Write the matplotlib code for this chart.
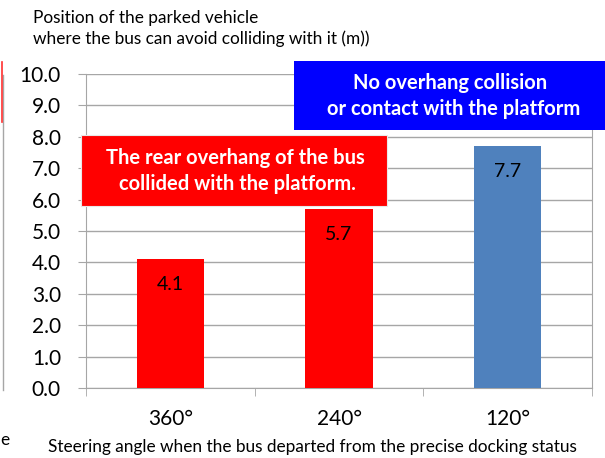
import matplotlib
matplotlib.use("Agg")
import matplotlib.pyplot as plt
from matplotlib.patches import Rectangle
from matplotlib.lines import Line2D

# data
angles = ["360°", "240°", "120°"]
positions = [4.1, 5.7, 7.7]
bar_colors = ["#ff0000", "#ff0000", "#4f81bd"]
yticks = [0, 1, 2, 3, 4, 5, 6, 7, 8, 9, 10]

GRID = "#a6a6a6"
plt.rcParams.update({"font.family": ["Lato", "DejaVu Sans"]})

fig = plt.figure(figsize=(6.05, 4.58), dpi=100)
ax = fig.add_axes([86 / 605, 1 - 388 / 458, (592 - 86) / 605, (388 - 74) / 458])

x = range(len(angles))
ax.bar(x, positions, width=0.4, color=bar_colors, zorder=3)
for xi, v in zip(x, positions):
    ax.annotate(f"{v:.1f}", (xi, v), xytext=(0, -18), textcoords="offset points",
                ha="center", va="center", fontsize=14, color="black", zorder=4)

ax.set_xlim(-0.5, len(angles) - 0.5)
ax.set_ylim(0, 10)
ax.set_yticks(yticks)
ax.set_yticklabels([f"{t:.1f}" for t in yticks], fontsize=15)
ax.set_xticks(list(x))
ax.set_xticklabels(angles, fontsize=15)
ax.set_xticks([i - 0.5 for i in range(len(angles) + 1)], minor=True)
ax.tick_params(axis="x", which="major", length=0, pad=15)
ax.tick_params(axis="x", which="minor", length=6, color=GRID, direction="out")
ax.tick_params(axis="y", length=6, color=GRID, direction="out", pad=12)
ax.yaxis.grid(True, color=GRID, lw=1, zorder=0)
ax.set_axisbelow(True)
for s in ax.spines.values():
    s.set_color(GRID)
ax.spines["top"].set_visible(False)

ax.set_xlabel("Steering angle when the bus departed from the precise docking status",
              fontsize=12.4, va="center")
ax.xaxis.set_label_coords((312 - 86) / 506, -(447 - 388) / 314)

fig.text(33 / 605, 1 - 18 / 458, "Position of the parked vehicle", fontsize=12.4, va="center")
fig.text(33 / 605, 1 - 39 / 458, "where the bus can avoid colliding with it (m))", fontsize=12.4,
         va="center")

# annotation boxes
red = Rectangle((81 / 605, 1 - 206 / 458), 306 / 605, 71 / 458, transform=fig.transFigure,
                facecolor="#ff0000", edgecolor="#e8e8e8", lw=0.8, zorder=5)
blue = Rectangle((294 / 605, 1 - 130 / 458), 311 / 605, 69 / 458, transform=fig.transFigure,
                 facecolor="#0000ff", edgecolor="none", zorder=5)
fig.add_artist(red)
fig.add_artist(blue)
box_txt = dict(color="white", fontsize=14.5, fontweight="bold", ha="center", va="center",
               zorder=6)
fig.text(235 / 605, 1 - 158 / 458, "The rear overhang of the bus", **box_txt)
fig.text(237 / 605, 1 - 184 / 458, "collided with the platform.", **box_txt)
fig.text(450 / 605, 1 - 83 / 458, "No overhang collision", **box_txt)
fig.text(454 / 605, 1 - 109 / 458, "or contact with the platform", **box_txt)

# fragments of the neighbouring chart at the left edge
fig.add_artist(Line2D([3 / 605, 3 / 605], [1 - 75 / 458, 1 - 390 / 458], color=GRID, lw=1))
fig.add_artist(Line2D([2 / 605, 2 / 605], [1 - 62 / 458, 1 - 122 / 458], color="#ff3030", lw=1.2))
fig.text(0.5 / 605, 1 - 440 / 458, "e", fontsize=12.4, va="center")

fig.savefig("out.png", dpi=100)
